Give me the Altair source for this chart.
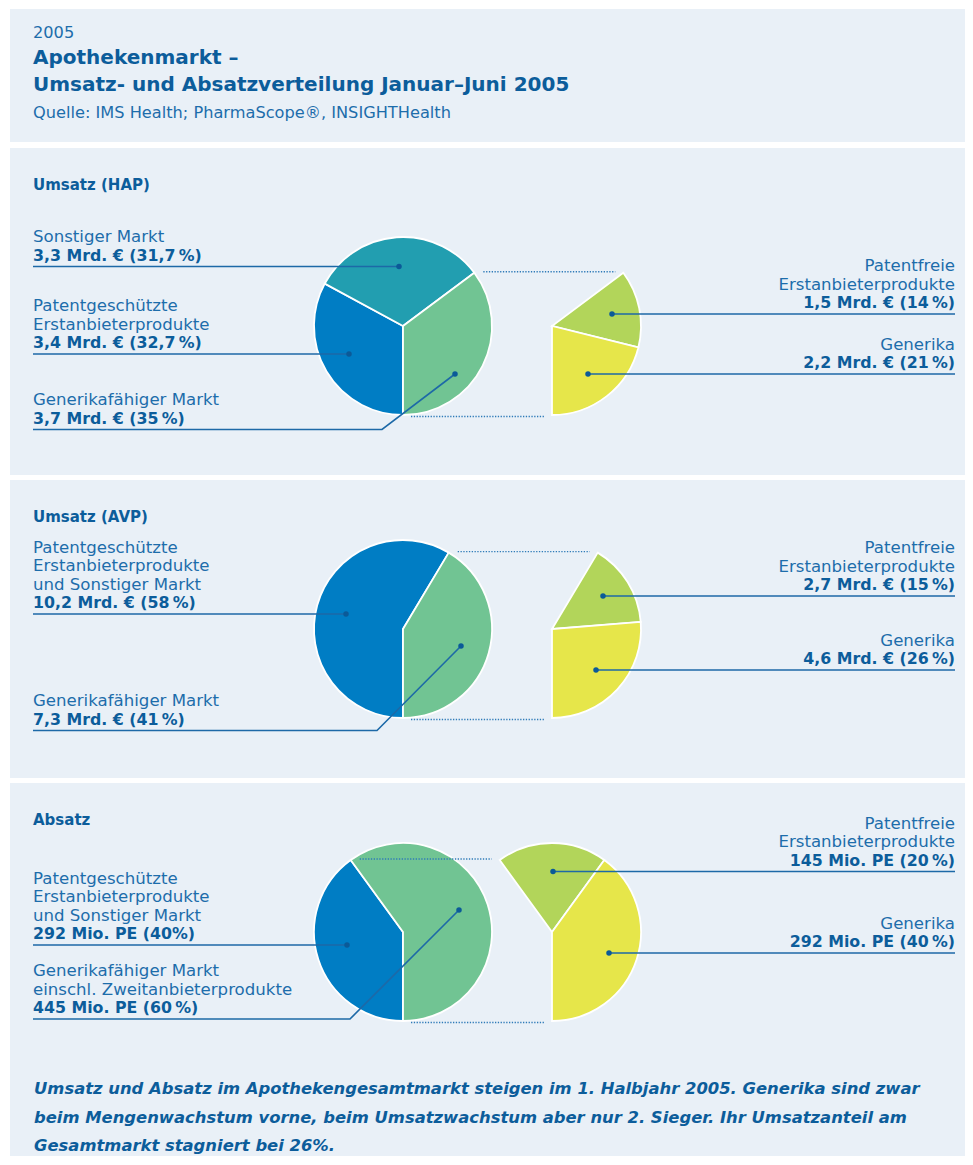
import math
import altair as alt
import pandas as pd

# ============================ DATA ============================
TS = "\u2009"  # thin space before %

header_year = "2005"
title_lines = ["Apothekenmarkt –", "Umsatz- und Absatzverteilung Januar–Juni 2005"]
source_line = "Quelle: IMS Health; PharmaScope®, INSIGHTHealth"
panel_titles = ["Umsatz (HAP)", "Umsatz (AVP)", "Absatz"]

SEG_PATENT = "Patentgeschützte Erstanbieterprodukte"
SEG_SONST = "Sonstiger Markt"
SEG_PATSONST = "Patentgeschützte Erstanbieterprodukte und Sonstiger Markt"
SEG_GENF = "Generikafähiger Markt"
SEG_PATFREI = "Patentfreie Erstanbieterprodukte"
SEG_GENERIKA = "Generika"
SEG_REST = "übriger Markt"

# main pies: segments clockwise starting at 6 o'clock, shares in %
hap_segments = [SEG_PATENT, SEG_SONST, SEG_GENF]
hap_shares = [32.7, 31.7, 35.0]
avp_segments = [SEG_PATSONST, SEG_GENF]
avp_shares = [58.0, 41.0]
abs_segments = [SEG_PATSONST, SEG_GENF]
abs_shares = [40.0, 60.0]

# split of the generikafähiger Markt (shares of total market, %)
sub_segments = [SEG_PATFREI, SEG_GENERIKA]
hap_sub_shares = [14.0, 21.0]
avp_sub_shares = [15.0, 26.0]
abs_sub_shares = [20.0, 40.0]

# label texts: (description lines, value line)
hap_left_text = [["Sonstiger Markt"], ["Patentgeschützte", "Erstanbieterprodukte"], ["Generikafähiger Markt"]]
hap_left_values = [f"3,3 Mrd. € (31,7{TS}%)", f"3,4 Mrd. € (32,7{TS}%)", f"3,7 Mrd. € (35{TS}%)"]
hap_right_text = [["Patentfreie", "Erstanbieterprodukte"], ["Generika"]]
hap_right_values = [f"1,5 Mrd. € (14{TS}%)", f"2,2 Mrd. € (21{TS}%)"]

avp_left_text = [["Patentgeschützte", "Erstanbieterprodukte", "und Sonstiger Markt"], ["Generikafähiger Markt"]]
avp_left_values = [f"10,2 Mrd. € (58{TS}%)", f"7,3 Mrd. € (41{TS}%)"]
avp_right_text = [["Patentfreie", "Erstanbieterprodukte"], ["Generika"]]
avp_right_values = [f"2,7 Mrd. € (15{TS}%)", f"4,6 Mrd. € (26{TS}%)"]

abs_left_text = [["Patentgeschützte", "Erstanbieterprodukte", "und Sonstiger Markt"],
                 ["Generikafähiger Markt", "einschl. Zweitanbieterprodukte"]]
abs_left_values = ["292 Mio. PE (40%)", f"445 Mio. PE (60{TS}%)"]
abs_right_text = [["Patentfreie", "Erstanbieterprodukte"], ["Generika"]]
abs_right_values = [f"145 Mio. PE (20{TS}%)", f"292 Mio. PE (40{TS}%)"]

footer_lines = [
    "Umsatz und Absatz im Apothekengesamtmarkt steigen im 1. Halbjahr 2005. Generika sind zwar",
    "beim Mengenwachstum vorne, beim Umsatzwachstum aber nur 2. Sieger. Ihr Umsatzanteil am",
    "Gesamtmarkt stagniert bei 26%.",
]

# ============================ LAYOUT / STYLE ============================
OX, OY = 8, 8            # page margin (chart origin on the page)
W, H = 957, 1148
R = 89                   # pie radius
PIE_DX = 149             # distance between main pie and split pie
FONT = "DejaVu Sans"
PANEL_BG = "#e9f0f7"
TEXT_COL = "#1d6dab"
BOLD_COL = "#0c5d9b"
LINE_COL = "#1d69a7"
DOT_COL = "#0b5a98"
DOTTED_COL = "#2f7bb8"

SEG_DOMAIN = [SEG_PATENT, SEG_SONST, SEG_PATSONST, SEG_GENF, SEG_PATFREI, SEG_GENERIKA, SEG_REST]
SEG_FILL = ["#007dc4", "#229eb0", "#007dc4", "#71c493", "#b2d55a", "#e6e64a", "transparent"]
SEG_STROKE = ["#ffffff"] * 6 + ["transparent"]

panel_rects = [(10, 9, 965, 142), (10, 148, 965, 475), (10, 480, 965, 778), (10, 783, 965, 1156)]
pie_centers_y = [326, 629, 932]
PIE_CX = 403
title_y = [190, 522, 825]

# label blocks: (underline y, dot x, dot y, corner x or None)
hap_left_layout = [(266.5, 399, 266.5, None), (354, 349, 354, None), (429.5, 455, 374, 382)]
hap_right_layout = [(314, 612, 314), (374, 588, 374)]
avp_left_layout = [(614, 346, 614, None), (730.5, 461, 646, 377)]
avp_right_layout = [(596, 603, 596), (670, 596, 670)]
abs_left_layout = [(945, 347, 945, None), (1019, 459, 910, 350)]
abs_right_layout = [(871.5, 553, 871.5), (953, 609, 953)]

LEFT_X, RIGHT_X = 33, 955
LINE_STEP = 18.5
VALUE_OFFSET = 6

# ============================ BUILD TABLES ============================
def px(v):
    return v - OX


def py(v):
    return v - OY


panels_df = pd.DataFrame(
    [dict(x=px(a), x2=px(c), y=py(b), y2=py(d)) for a, b, c, d in panel_rects]
)

pies = [
    ("hap", hap_segments, hap_shares, hap_sub_shares),
    ("avp", avp_segments, avp_shares, avp_sub_shares),
    ("abs", abs_segments, abs_shares, abs_sub_shares),
]

texts = []          # text, x, y, kind
lines = []          # id, i, x, y
dots = []           # x, y
dotted = []         # x, x2, y


def add_block(side, desc, value, lay, bid):
    if side == "L":
        line_y, dx, dy, corner = lay
        xa = LEFT_X
    else:
        line_y, dx, dy = lay
        corner = None
        xa = RIGHT_X
    vy = line_y - VALUE_OFFSET
    texts.append(dict(text=value, x=px(xa), y=py(vy), kind="bold_" + side))
    n = len(desc)
    for k, t in enumerate(desc):
        texts.append(dict(text=t, x=px(xa), y=py(vy - (n - k) * LINE_STEP), kind="reg_" + side))
    if side == "L":
        pts = [(LEFT_X, line_y)]
        if corner is not None:
            pts.append((corner, line_y))
        pts.append((dx, dy))
    else:
        pts = [(dx, dy), (RIGHT_X, line_y)]
    for i, (a, b) in enumerate(pts):
        lines.append(dict(id=bid, i=i, x=px(a), y=py(b)))
    dots.append(dict(x=px(dx), y=py(dy)))


blocks = [
    ("L", hap_left_text, hap_left_values, hap_left_layout),
    ("R", hap_right_text, hap_right_values, hap_right_layout),
    ("L", avp_left_text, avp_left_values, avp_left_layout),
    ("R", avp_right_text, avp_right_values, avp_right_layout),
    ("L", abs_left_text, abs_left_values, abs_left_layout),
    ("R", abs_right_text, abs_right_values, abs_right_layout),
]
bid = 0
for side, descs, vals, lays in blocks:
    for d, v, l in zip(descs, vals, lays):
        add_block(side, d, v, l, bid)
        bid += 1

for t, y in zip(panel_titles, title_y):
    texts.append(dict(text=t, x=px(LEFT_X), y=py(y), kind="ptitle"))
texts.append(dict(text=header_year, x=px(LEFT_X), y=py(38), kind="head_reg"))
texts.append(dict(text=source_line, x=px(LEFT_X), y=py(118), kind="head_reg"))
for t, y in zip(title_lines, [64, 91]):
    texts.append(dict(text=t, x=px(LEFT_X), y=py(y), kind="head_bold"))
for t, y in zip(footer_lines, [1094, 1123, 1151]):
    texts.append(dict(text=t, x=px(34), y=py(y), kind="footer"))

texts_df = pd.DataFrame(texts)
lines_df = pd.DataFrame(lines)
dots_df = pd.DataFrame(dots)

XP = dict(scale=None, axis=None)

layers = []
layers.append(
    alt.Chart(panels_df).mark_rect(color=PANEL_BG).encode(
        x=alt.X("x:Q", **XP), x2="x2:Q", y=alt.Y("y:Q", **XP), y2="y2:Q"
    )
)

# pies
for (key, segs, shares, subs), cy in zip(pies, pie_centers_y):
    left_df = pd.DataFrame({"seg": segs, "share": shares, "ord": list(range(len(segs)))})
    rest = sum(shares) - shares[-1]
    right_df = pd.DataFrame({
        "seg": [SEG_REST] + sub_segments,
        "share": [rest] + subs,
        "ord": [0, 1, 2],
    })
    for df, cx in ((left_df, PIE_CX), (right_df, PIE_CX + PIE_DX)):
        layers.append(
            alt.Chart(df).mark_arc(radius=R, strokeWidth=1.8).encode(
                theta=alt.Theta("share:Q", stack=True,
                                scale=alt.Scale(range=[math.pi, 3 * math.pi])),
                order=alt.Order("ord:Q"),
                color=alt.Color("seg:N", scale=alt.Scale(domain=SEG_DOMAIN, range=SEG_FILL), legend=None),
                stroke=alt.Stroke("seg:N", scale=alt.Scale(domain=SEG_DOMAIN, range=SEG_STROKE), legend=None),
                x=alt.value(px(cx)),
                y=alt.value(py(cy)),
            )
        )
    # dotted connectors derived from the generic slice boundary
    theta0 = math.pi + 2 * math.pi * rest / sum(shares)
    bx = PIE_CX + R * math.sin(theta0)
    by = cy - R * math.cos(theta0)
    dotted.append(dict(x=px(bx + 9), x2=px(bx + PIE_DX - 8), y=py(by - 1)))
    dotted.append(dict(x=px(PIE_CX + 8), x2=px(PIE_CX + PIE_DX - 7), y=py(cy + R + 1.5)))

dotted_df = pd.DataFrame(dotted)
layers.append(
    alt.Chart(dotted_df).mark_rule(color=DOTTED_COL, strokeWidth=1.3, strokeDash=[1.3, 1.5]).encode(
        x=alt.X("x:Q", **XP), x2="x2:Q", y=alt.Y("y:Q", **XP)
    )
)
layers.append(
    alt.Chart(lines_df).mark_line(color=LINE_COL, strokeWidth=1.6).encode(
        x=alt.X("x:Q", **XP), y=alt.Y("y:Q", **XP), detail="id:N", order="i:Q"
    )
)
layers.append(
    alt.Chart(dots_df).mark_circle(color=DOT_COL, size=30, opacity=1).encode(
        x=alt.X("x:Q", **XP), y=alt.Y("y:Q", **XP)
    )
)

text_styles = {
    "reg_L": dict(fontSize=16.6, fontWeight="normal", align="left", color=TEXT_COL),
    "reg_R": dict(fontSize=16.6, fontWeight="normal", align="right", color=TEXT_COL),
    "bold_L": dict(fontSize=15.8, fontWeight="bold", align="left", color=BOLD_COL),
    "bold_R": dict(fontSize=15.8, fontWeight="bold", align="right", color=BOLD_COL),
    "ptitle": dict(fontSize=15, fontWeight="bold", align="left", color=BOLD_COL),
    "head_reg": dict(fontSize=16.2, fontWeight="normal", align="left", color=TEXT_COL),
    "head_bold": dict(fontSize=20, fontWeight="bold", align="left", color=BOLD_COL),
    "footer": dict(fontSize=16.4, fontWeight="bold", fontStyle="italic", align="left", color=BOLD_COL),
}
for kind, st in text_styles.items():
    sub = texts_df[texts_df["kind"] == kind]
    layers.append(
        alt.Chart(sub).mark_text(font=FONT, baseline="alphabetic", **st).encode(
            x=alt.X("x:Q", **XP), y=alt.Y("y:Q", **XP), text="text:N"
        )
    )

chart = (
    alt.layer(*layers)
    .resolve_scale(theta="independent")
    .properties(width=W, height=H, padding=0,
                autosize=alt.AutoSizeParams(type="none"), background="#ffffff")
    .configure_view(stroke=None)
)

chart.save("out.html", embed_options={"renderer": "svg", "actions": False})
